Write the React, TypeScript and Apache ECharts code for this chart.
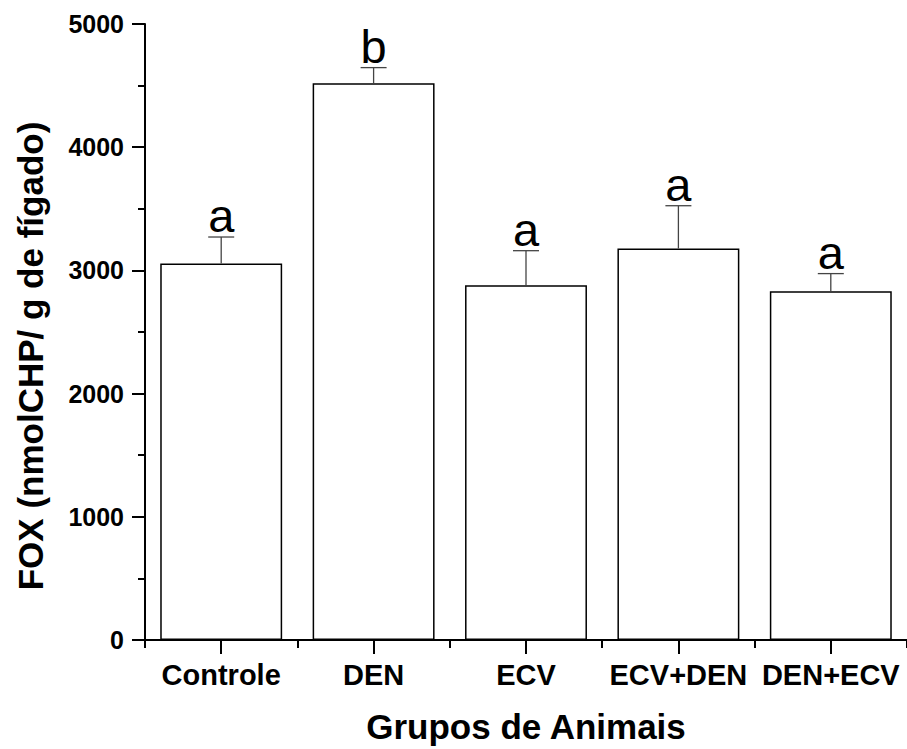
import React, { useEffect, useRef } from "react";
import * as echarts from "echarts";

const categories = ["Controle", "DEN", "ECV", "ECV+DEN", "DEN+ECV"];
const means = [3055, 4519, 2879, 3177, 2831];
const errors = [216, 127, 281, 348, 143];
const letters = ["a", "b", "a", "a", "a"];
const yTicks = { min: 0, max: 5000, interval: 1000 };

const FONT = "'Liberation Sans', Arial, Helvetica, sans-serif";

export default function App() {
  const ref = useRef<HTMLDivElement>(null);
  useEffect(() => {
    document.body.style.margin = "0";
    const chart = echarts.init(ref.current!, null, { renderer: "svg" });
    const errData = means.map((m, i) => [i, m, m + errors[i], letters[i]]);
    chart.setOption({
      animation: false,
      backgroundColor: "#ffffff",
      grid: { left: 145, top: 24, width: 768.75, bottom: 108 },
      xAxis: [
        {
          type: "category",
          data: categories,
          position: "bottom",
          name: "Grupos de Animais",
          nameLocation: "middle",
          nameGap: 69,
          nameTextStyle: { fontFamily: FONT, fontWeight: "bold", fontSize: 35, color: "#000" },
          axisLine: { show: true, lineStyle: { color: "#000", width: 2 } },
          axisTick: { show: true, alignWithLabel: true, length: 14, lineStyle: { color: "#000", width: 2 } },
          axisLabel: { fontFamily: FONT, fontWeight: "bold", fontSize: 29, color: "#000", margin: 20, interval: 0 },
          splitLine: { show: false },
        },
        {
          type: "category",
          data: categories,
          position: "bottom",
          axisLine: { show: false },
          axisTick: { show: true, alignWithLabel: false, length: 8, interval: 0, lineStyle: { color: "#000", width: 2 } },
          axisLabel: { show: false },
          splitLine: { show: false },
        },
      ],
      yAxis: {
        type: "value",
        min: yTicks.min,
        max: yTicks.max,
        interval: yTicks.interval,
        axisLine: { show: true, lineStyle: { color: "#000", width: 2 } },
        axisTick: { show: true, length: 13, lineStyle: { color: "#000", width: 2 } },
        minorTick: { show: true, splitNumber: 2, length: 7, lineStyle: { color: "#000", width: 2 } },
        axisLabel: {
          fontFamily: FONT,
          fontWeight: "bold",
          fontSize: 25,
          color: "#000",
          margin: 21,
          formatter: (v: number) => String(v),
        },
        splitLine: { show: false },
      },
      graphic: [
        {
          type: "text",
          x: 30,
          y: 356,
          rotation: Math.PI / 2,
          style: {
            text: "FOX (nmolCHP/ g de fígado)",
            fontFamily: FONT,
            fontWeight: "bold",
            fontSize: 35,
            fill: "#000",
            align: "center",
            verticalAlign: "middle",
          },
        },
      ],
      series: [
        {
          type: "bar",
          data: means,
          barWidth: "80%",
          itemStyle: { color: "#fff", borderColor: "#000", borderWidth: 1.5 },
          silent: true,
        },
        {
          type: "custom",
          data: errData,
          silent: true,
          z: 5,
          renderItem: (params: any, api: any) => {
            const x = api.coord([api.value(0), api.value(1)])[0];
            const yBase = api.coord([api.value(0), api.value(1)])[1];
            const yTop = api.coord([api.value(0), api.value(2)])[1];
            const letter = letters[params.dataIndex];
            const hw = 13;
            return {
              type: "group",
              children: [
                {
                  type: "line",
                  shape: { x1: x, y1: yBase, x2: x, y2: yTop },
                  style: { stroke: "#444", lineWidth: 1.3 },
                },
                {
                  type: "line",
                  shape: { x1: x - hw, y1: yTop, x2: x + hw, y2: yTop },
                  style: { stroke: "#444", lineWidth: 1.3 },
                },
                {
                  type: "text",
                  x: x,
                  y: yTop + 2,
                  style: {
                    text: letter,
                    fontFamily: FONT,
                    fontSize: 47,
                    fill: "#000",
                    align: "center",
                    verticalAlign: "bottom",
                  },
                },
              ],
            };
          },
        },
      ],
    });
    return () => chart.dispose();
  }, []);
  return <div ref={ref} style={{ width: 907, height: 749 }} />;
}
